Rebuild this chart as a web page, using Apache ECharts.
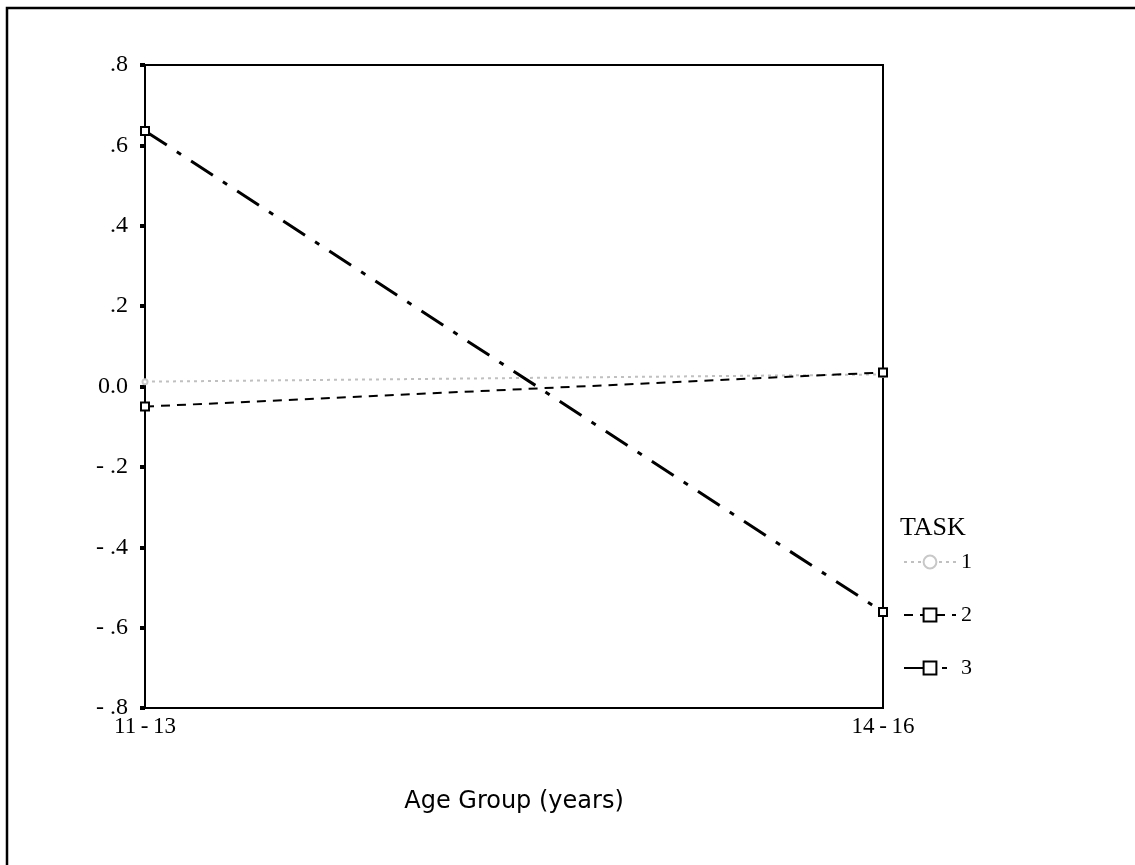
<!DOCTYPE html>
<html>
<head>
<meta charset="utf-8">
<script src="https://cdn.jsdelivr.net/npm/echarts@6/dist/echarts.min.js"></script>
<style>html,body{margin:0;padding:0;background:#fff}#c{width:1135px;height:865px}</style>
</head>
<body>
<div id="c"></div>
<script>
const categories = ['11-13', '14-16'];
const seriesNames = ['1', '2', '3'];
const task1 = [0.012, 0.030];
const task2 = [-0.050, 0.035];
const task3 = [0.636, -0.561];
const yTicks = [-0.8, -0.6, -0.4, -0.2, 0.0, 0.2, 0.4, 0.6, 0.8];
const yLabels = ['- .8', '- .6', '- .4', '- .2', '0.0', '.2', '.4', '.6', '.8'];

const serif = '"Liberation Serif", "DejaVu Serif", serif';
const sans = '"DejaVu Sans", "Noto Sans", sans-serif';
const chart = echarts.init(document.getElementById('c'));
chart.setOption({
  animation: false,
  backgroundColor: '#fff',
  title: {
    text: 'TASK', left: 895, top: 510,
    textStyle: { fontFamily: serif, fontSize: 26, fontWeight: 'normal', color: '#000' }
  },
  legend: {
    orient: 'vertical', left: 898, top: 546,
    itemWidth: 52, itemHeight: 16, itemGap: 31,
    data: seriesNames,
    textStyle: { fontFamily: serif, fontSize: 22, color: '#000' }
  },
  graphic: [{
    type: 'rect', silent: true, z: -1,
    shape: { x: 7, y: 8, width: 1300, height: 1000 },
    style: { fill: 'none', stroke: '#000', lineWidth: 2.5 }
  }],
  grid: {
    left: 145, top: 65, right: 252, bottom: 157,
    show: true, borderColor: '#000', borderWidth: 2, backgroundColor: 'transparent'
  },
  xAxis: {
    type: 'category', data: categories, boundaryGap: false,
    axisLine: { onZero: false, lineStyle: { color: '#000', width: 2 } },
    axisTick: { show: false },
    axisLabel: {
      fontFamily: serif, fontSize: 23, color: '#000', margin: 7,
      formatter: v => v.replace('-', '\u2009-\u2009')
    },
    name: 'Age Group (years)', nameLocation: 'middle', nameGap: 82,
    nameTextStyle: { fontFamily: sans, fontSize: 24, color: '#000' }
  },
  yAxis: {
    type: 'value', min: -0.8, max: 0.8, interval: 0.2,
    splitLine: { show: false },
    axisLine: { show: true, onZero: false, lineStyle: { color: '#000', width: 2 } },
    axisTick: { show: true, length: 5, lineStyle: { color: '#000', width: 4 } },
    axisLabel: {
      fontFamily: serif, fontSize: 24, color: '#000', margin: 17,
      formatter: v => {
        const i = yTicks.findIndex(t => Math.abs(t - v) < 1e-6);
        return i >= 0 ? yLabels[i] : '';
      }
    }
  },
  series: [
    {
      name: seriesNames[0], type: 'line', data: task1,
      symbol: 'emptyCircle', symbolSize: 5,
      itemStyle: { color: '#c8c8c8', borderColor: '#bbb' },
      lineStyle: { color: '#c0c0c0', width: 2, type: [3, 4] }
    },
    {
      name: seriesNames[1], type: 'line', data: task2,
      symbol: 'emptyRect', symbolSize: 8,
      itemStyle: { color: '#000', borderColor: '#000', borderWidth: 1.5 },
      lineStyle: { color: '#000', width: 2, type: [9, 7] }
    },
    {
      name: seriesNames[2], type: 'line', data: task3,
      symbol: 'emptyRect', symbolSize: 8,
      itemStyle: { color: '#000', borderColor: '#000', borderWidth: 1.5 },
      lineStyle: { color: '#000', width: 3, type: [26, 12, 5, 12] }
    }
  ]
});
</script>
</body>
</html>
